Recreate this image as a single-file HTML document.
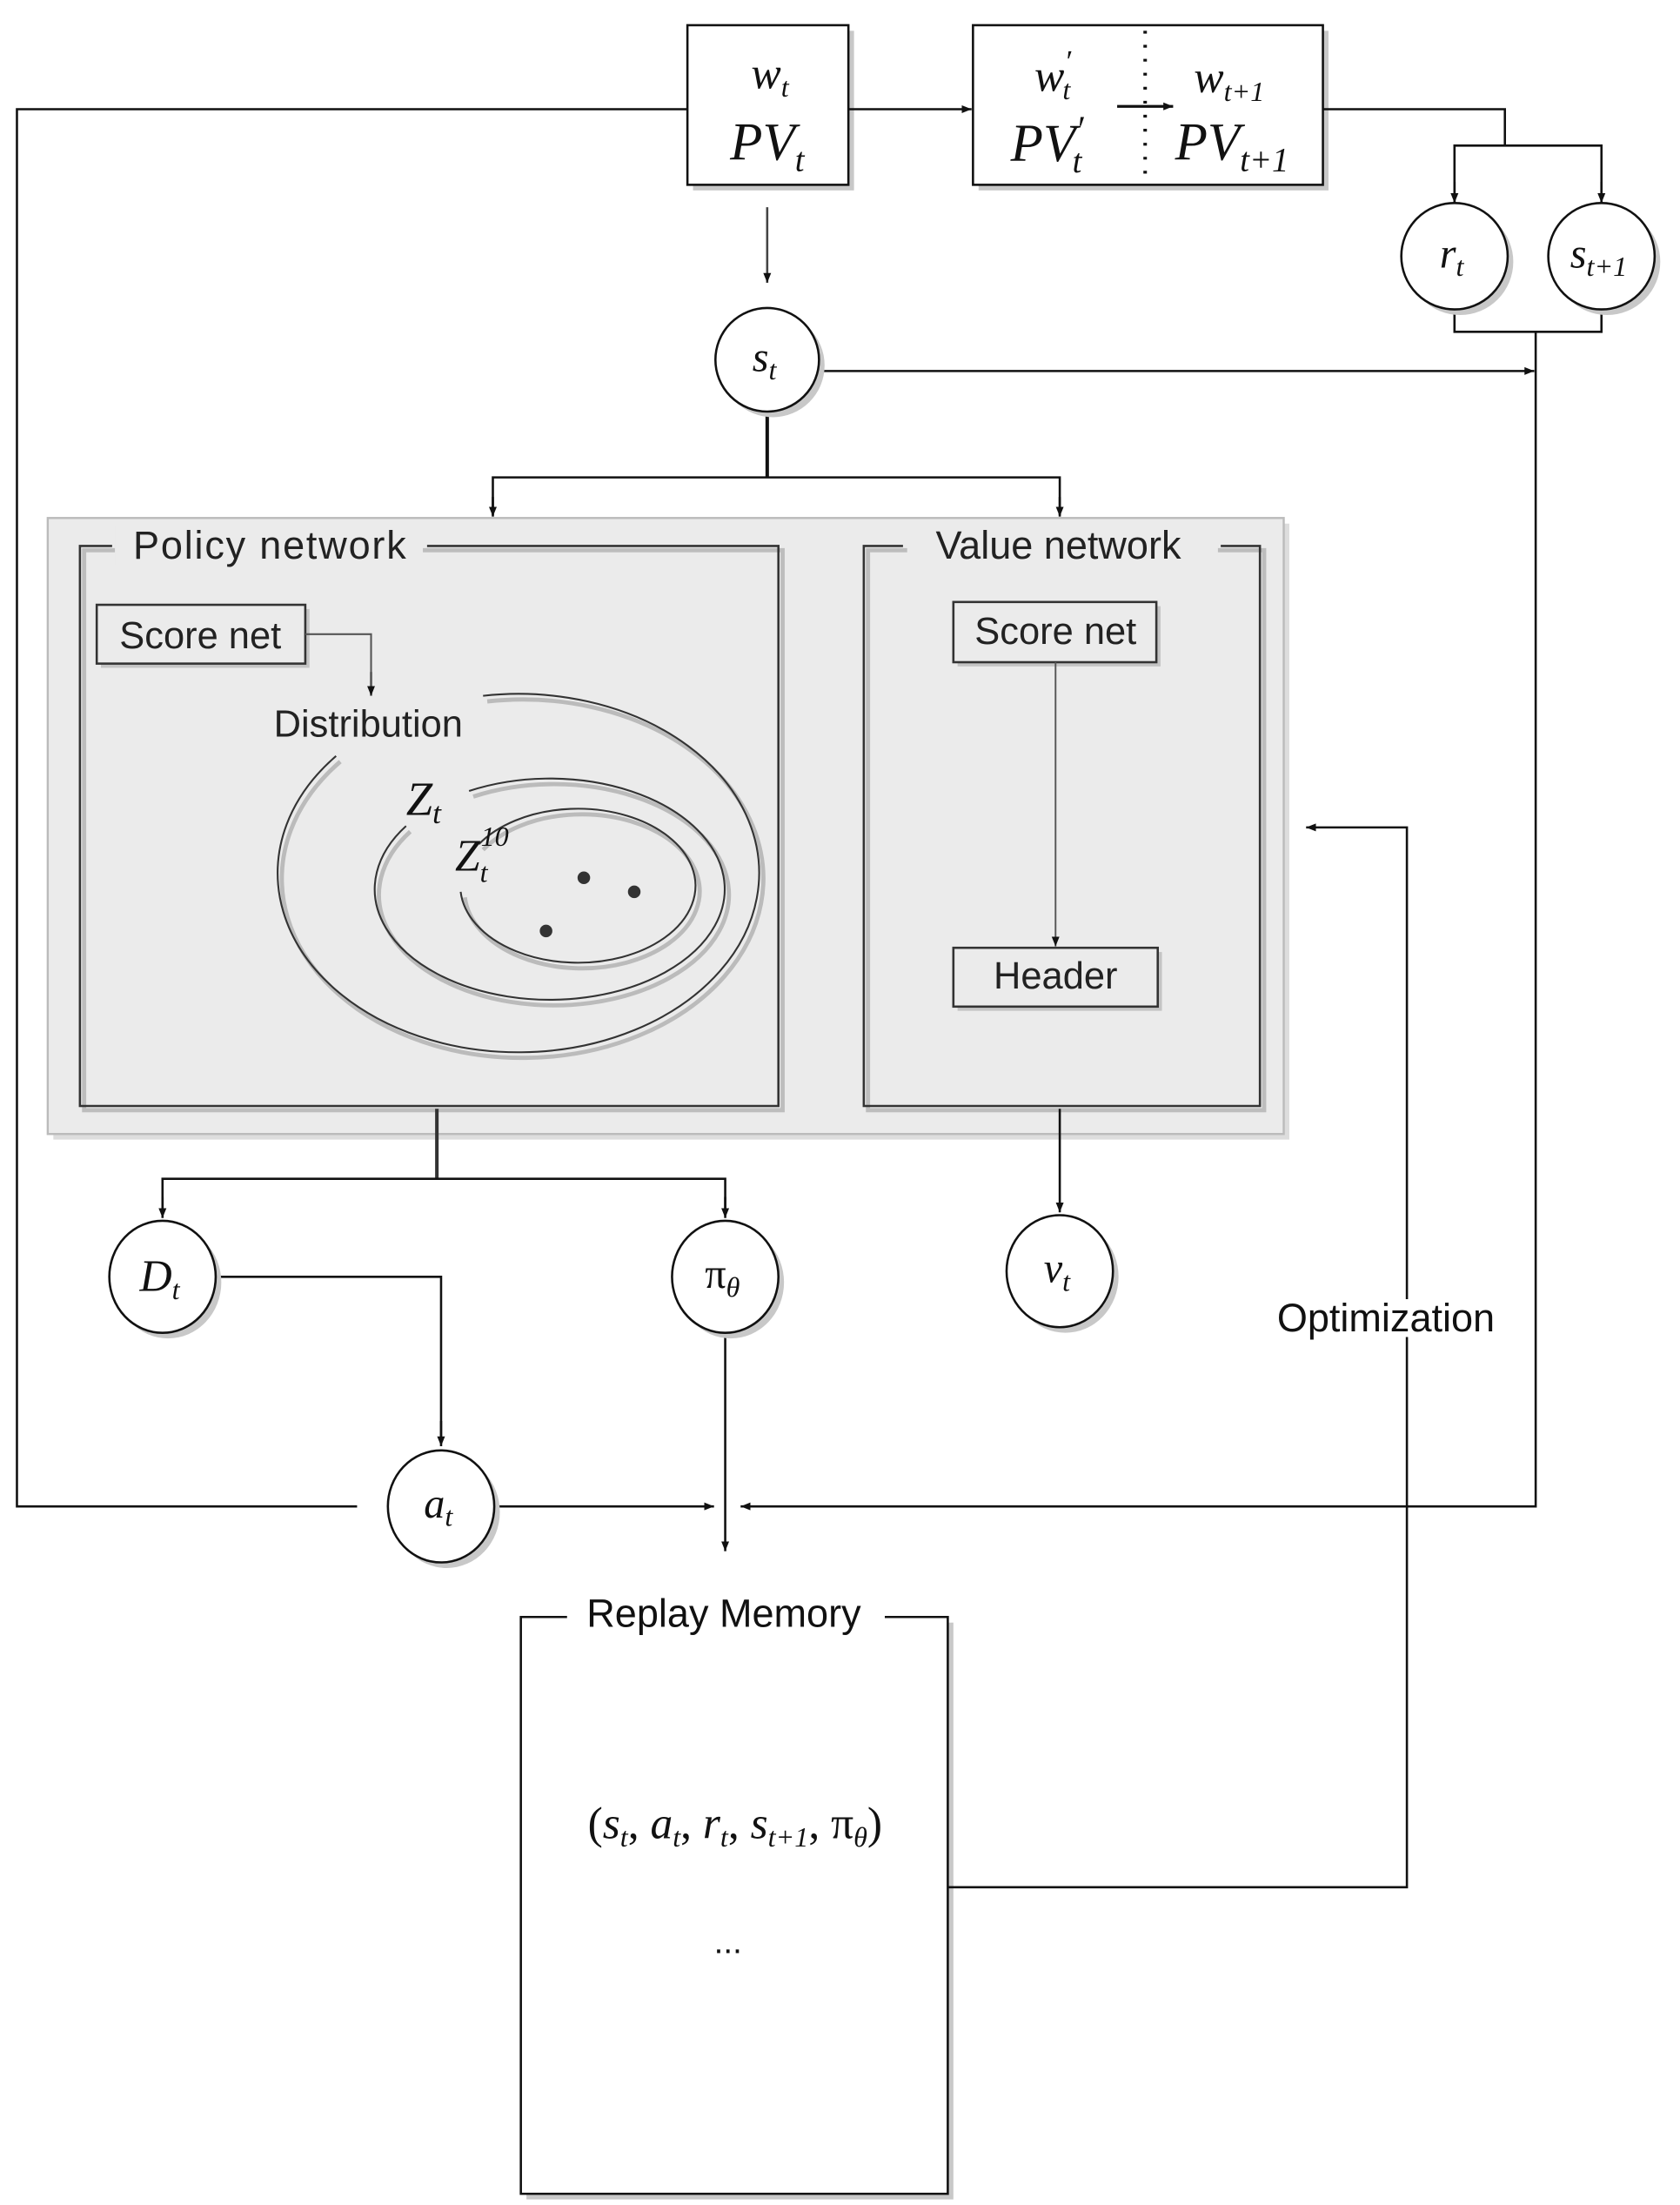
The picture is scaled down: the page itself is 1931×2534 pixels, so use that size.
<!DOCTYPE html>
<html><head><meta charset="utf-8"><style>
html,body{margin:0;padding:0;background:#fff;}
svg{display:block;}
.m{font-family:"Liberation Serif",serif;font-style:italic;fill:#111;}
.s{font-family:"Liberation Sans",sans-serif;fill:#222;}
</style></head><body>
<svg width="1931" height="2534" viewBox="0 0 1200 1575" xmlns="http://www.w3.org/2000/svg">
<defs>
<marker id="a" viewBox="0 0 10 10" refX="10" refY="5" markerWidth="7" markerHeight="7" orient="auto-start-reverse" markerUnits="userSpaceOnUse"><path d="M0,1 L10,5 L0,9 z" fill="#111"/></marker>
</defs>
<g fill="none" stroke="#111" stroke-width="1.6">
<rect x="495" y="22" width="115" height="114" fill="#c8c8c8" stroke="none"/>
<rect x="491" y="18" width="115" height="114" fill="#fff"/>
<rect x="699" y="22" width="250" height="114" fill="#c8c8c8" stroke="none"/>
<rect x="695" y="18" width="250" height="114" fill="#fff"/>
<line x1="818" y1="22" x2="818" y2="130" stroke-dasharray="2,8" stroke-width="2.5"/>
<line x1="798" y1="76" x2="838" y2="76" marker-end="url(#a)" stroke-width="2"/>
<polyline points="491,78 12,78 12,1076 255,1076"/>
<line x1="606" y1="78" x2="694" y2="78" marker-end="url(#a)"/>
<polyline points="945,78 1075,78 1075,104"/>
<polyline points="1039,145 1039,104 1144,104 1144,145"/>
<line x1="1039" y1="130" x2="1039" y2="145" marker-end="url(#a)"/>
<line x1="1144" y1="130" x2="1144" y2="145" marker-end="url(#a)"/>
<polyline points="1039,221 1039,237 1144,237 1144,221"/>
<polyline points="1097,237 1097,1076 529,1076" marker-end="url(#a)"/>
<line x1="548" y1="148" x2="548" y2="202" marker-end="url(#a)" stroke="#444"/>
<line x1="586" y1="265" x2="1096" y2="265" marker-end="url(#a)"/>
<line x1="548" y1="294" x2="548" y2="341" stroke-width="2.5"/>
<polyline points="352,368 352,341 757,341 757,368"/>
<line x1="352" y1="355" x2="352" y2="369" marker-end="url(#a)"/>
<line x1="757" y1="355" x2="757" y2="369" marker-end="url(#a)"/>
</g>
<rect x="38" y="374" width="883" height="440" fill="#ddd"/>
<rect x="34" y="370" width="883" height="440" fill="#ebebeb" stroke="#bbb" stroke-width="1.5"/>
<g fill="none" stroke="#333" stroke-width="1.6">
<rect x="60" y="393" width="499" height="400" stroke="#bdbdbd" stroke-width="3"/>
<path d="M80,390 H57 V790 H556 V390 H305" fill="none"/>
<rect x="620" y="393" width="283" height="400" stroke="#bdbdbd" stroke-width="3"/>
<path d="M645,390 H617 V790 H900 V390 H872"/>
<rect x="72" y="435" width="149" height="42" fill="#c4c4c4" stroke="none"/>
<rect x="69" y="432" width="149" height="42" fill="#ebebeb"/>
<polyline points="218,453 265,453 265,496" stroke="#555" stroke-width="1.3"/>
<line x1="265" y1="480" x2="265" y2="497" marker-end="url(#a)" stroke="#555"/>
<rect x="684" y="433" width="145" height="43" fill="#c4c4c4" stroke="none"/>
<rect x="681" y="430" width="145" height="43" fill="#ebebeb"/>
<line x1="754" y1="473" x2="754" y2="676" marker-end="url(#a)" stroke="#555" stroke-width="1.2"/>
<rect x="684" y="680" width="146" height="42" fill="#c4c4c4" stroke="none"/>
<rect x="681" y="677" width="146" height="42" fill="#ebebeb"/>
<path d="M240,540 A172,128 0 1 0 345,497" stroke="#bbb" stroke-width="3" transform="translate(3,4)"/>
<path d="M240,540 A172,128 0 1 0 345,497" stroke="#333" stroke-width="1.3"/>
<path d="M290,590 A125,79 0 1 0 335,565" stroke="#bbb" stroke-width="3" transform="translate(3,4)"/>
<path d="M290,590 A125,79 0 1 0 335,565" stroke="#333" stroke-width="1.3"/>
<path d="M332,640 A84,55 0 1 0 345,606" stroke="#bbb" stroke-width="3" transform="translate(0,1)"/>
<path d="M332,640 A84,55 0 1 0 345,606" stroke="#333" stroke-width="1.3" transform="translate(-3,-3)"/>
</g>
<circle cx="417" cy="627" r="4.5" fill="#333"/>
<circle cx="453" cy="637" r="4.5" fill="#333"/>
<circle cx="390" cy="665" r="4.5" fill="#333"/>
<g class="s" font-size="27">
<rect x="82" y="376" width="220" height="28" fill="#ebebeb"/>
<text x="95" y="399" font-size="28" textLength="195">Policy network</text>
<rect x="648" y="376" width="222" height="28" fill="#ebebeb"/>
<text x="756" y="399" text-anchor="middle" font-size="28">Value network</text>
<text x="143" y="463" text-anchor="middle">Score net</text>
<text x="263" y="526" text-anchor="middle">Distribution</text>
<text x="754" y="460" text-anchor="middle">Score net</text>
<text x="754" y="706" text-anchor="middle">Header</text>
</g>
<text class="m" x="290" y="582" font-size="34" fill="#333">Z<tspan font-size="22" dy="6">t</tspan></text>
<text class="m" x="325" y="622" font-size="32" fill="#333">Z<tspan font-size="20" dy="8">t</tspan><tspan font-size="20" dy="-26" dx="-5">10</tspan></text>
<g fill="none" stroke="#111" stroke-width="1.6">
<line x1="312" y1="792" x2="312" y2="842" stroke-width="2.5" stroke="#333"/>
<polyline points="116,868 116,842 518,842 518,868"/>
<line x1="116" y1="855" x2="116" y2="870" marker-end="url(#a)"/>
<line x1="518" y1="855" x2="518" y2="870" marker-end="url(#a)"/>
<line x1="757" y1="792" x2="757" y2="866" marker-end="url(#a)"/>
<polyline points="155,912 315,912 315,1031"/>
<line x1="315" y1="1015" x2="315" y2="1033" marker-end="url(#a)"/>
<line x1="518" y1="952" x2="518" y2="1108" marker-end="url(#a)"/>
<line x1="352" y1="1076" x2="510" y2="1076" marker-end="url(#a)"/>
<rect x="376" y="1159" width="305" height="412" fill="#c8c8c8" stroke="none"/>
<rect x="372" y="1155" width="305" height="412" fill="#fff" stroke="none"/>
<path d="M405,1155 H372 V1567 H677 V1155 H632"/>
<polyline points="677,1348 1005,1348 1005,955"/>
<polyline points="1005,928 1005,591 933,591" marker-end="url(#a)"/>
</g>
<g stroke="#111" stroke-width="1.6" fill="#fff">
<g fill="#c8c8c8" stroke="none">
<ellipse cx="1043" cy="187" rx="38" ry="38"/><ellipse cx="1148" cy="187" rx="38" ry="38"/>
<ellipse cx="552" cy="261" rx="37" ry="37"/><ellipse cx="120" cy="916" rx="38" ry="40"/>
<ellipse cx="522" cy="916" rx="38" ry="40"/><ellipse cx="761" cy="912" rx="38" ry="40"/>
<ellipse cx="319" cy="1080" rx="38" ry="40"/>
</g>
<ellipse cx="1039" cy="183" rx="38" ry="38"/><ellipse cx="1144" cy="183" rx="38" ry="38"/>
<ellipse cx="548" cy="257" rx="37" ry="37"/><ellipse cx="116" cy="912" rx="38" ry="40"/>
<ellipse cx="518" cy="912" rx="38" ry="40"/><ellipse cx="757" cy="908" rx="38" ry="40"/>
<ellipse cx="315" cy="1076" rx="38" ry="40"/>
</g>
<g class="m">
<text x="550" y="63" text-anchor="middle" font-size="32">w<tspan font-size="20" dy="6">t</tspan></text>
<text x="548" y="114" text-anchor="middle" font-size="38">PV<tspan font-size="24" dy="8">t</tspan></text>
<text x="752" y="65" text-anchor="middle" font-size="32">w<tspan font-size="22" dy="-14">′</tspan><tspan font-size="20" dy="20" dx="-6">t</tspan></text>
<text x="748" y="115" text-anchor="middle" font-size="38">PV<tspan font-size="26" dy="-14">′</tspan><tspan font-size="24" dy="22" dx="-8">t</tspan></text>
<text x="878" y="66" text-anchor="middle" font-size="32">w<tspan font-size="20" dy="6">t+1</tspan></text>
<text x="880" y="114" text-anchor="middle" font-size="38">PV<tspan font-size="24" dy="8">t+1</tspan></text>
<text x="1037" y="191" text-anchor="middle" font-size="30">r<tspan font-size="20" dy="6">t</tspan></text>
<text x="1142" y="191" text-anchor="middle" font-size="30">s<tspan font-size="20" dy="6">t+1</tspan></text>
<text x="546" y="265" text-anchor="middle" font-size="30">s<tspan font-size="20" dy="6">t</tspan></text>
<text x="114" y="922" text-anchor="middle" font-size="32">D<tspan font-size="20" dy="6">t</tspan></text>
<text x="516" y="920" text-anchor="middle" font-size="30" font-style="normal">π<tspan font-size="20" dy="6" font-style="italic">θ</tspan></text>
<text x="755" y="916" text-anchor="middle" font-size="30">v<tspan font-size="20" dy="6">t</tspan></text>
<text x="313" y="1084" text-anchor="middle" font-size="30">a<tspan font-size="20" dy="6">t</tspan></text>
<text x="525" y="1313" text-anchor="middle" font-size="32"><tspan font-style="normal">(</tspan>s<tspan font-size="20" dy="6">t</tspan><tspan dy="-6" font-style="normal">, </tspan>a<tspan font-size="20" dy="6">t</tspan><tspan dy="-6" font-style="normal">, </tspan>r<tspan font-size="20" dy="6">t</tspan><tspan dy="-6" font-style="normal">, </tspan>s<tspan font-size="20" dy="6">t+1</tspan><tspan dy="-6" font-style="normal">, π</tspan><tspan font-size="20" dy="6">θ</tspan><tspan dy="-6" font-style="normal">)</tspan></text>
</g>
<g class="s">
<text x="517" y="1162" text-anchor="middle" font-size="28" fill="#111">Replay Memory</text>
<text x="520" y="1395" text-anchor="middle" font-size="24" fill="#111">...</text>
<text x="990" y="951" text-anchor="middle" font-size="28" fill="#111">Optimization</text>
</g>
</svg>
</body></html>
